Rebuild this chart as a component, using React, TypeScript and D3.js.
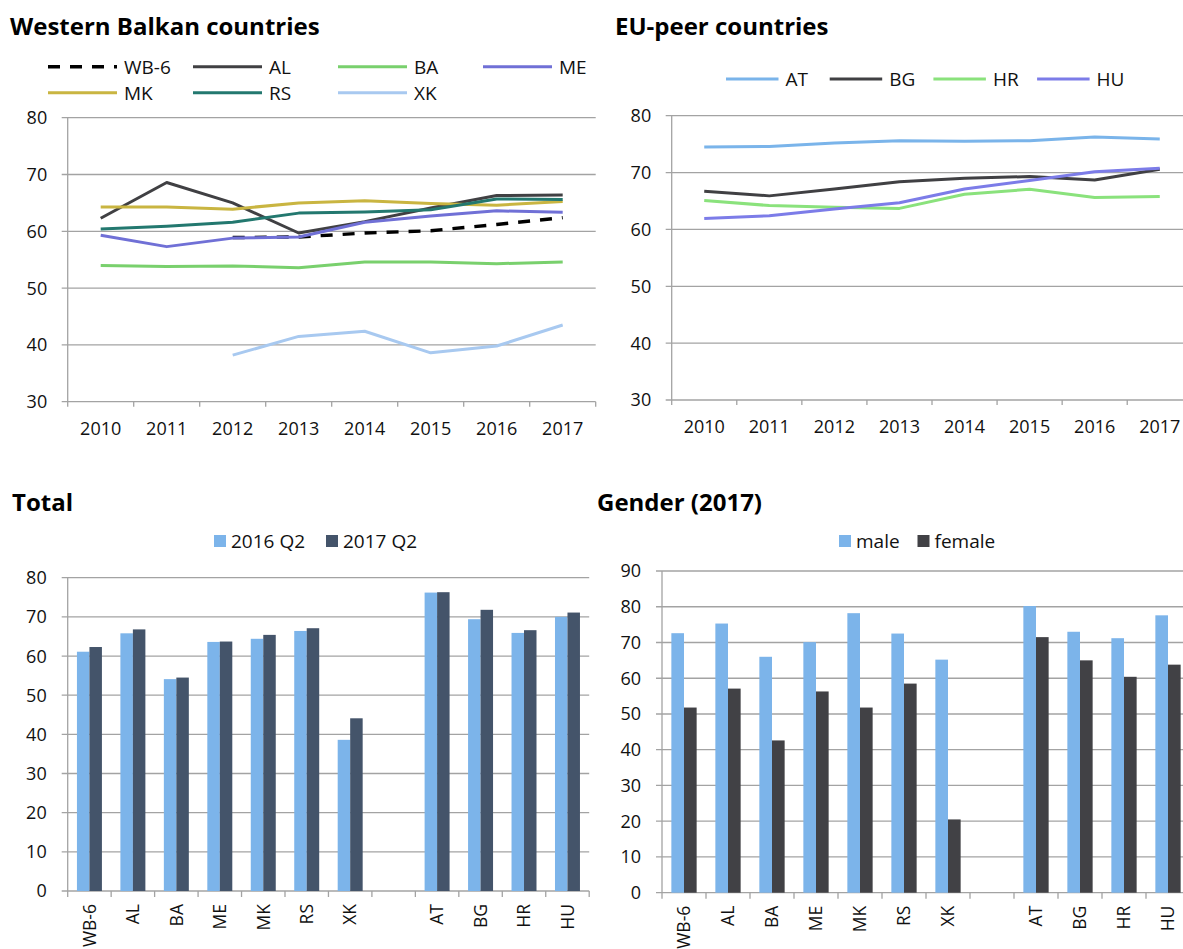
import React from 'react';
import * as d3 from 'd3';

// ---------- DATA ----------
const years = ['2010', '2011', '2012', '2013', '2014', '2015', '2016', '2017'];

const WB6 = [null, null, 58.9, 59.0, 59.7, 60.1, 61.2, 62.4];
const AL = [62.3, 68.6, 65.0, 59.7, 61.7, 64.1, 66.3, 66.4];
const BA = [54.0, 53.8, 53.9, 53.6, 54.6, 54.6, 54.3, 54.6];
const ME = [59.3, 57.3, 58.8, 59.0, 61.6, 62.7, 63.6, 63.35];
const MK = [64.3, 64.3, 63.9, 65.0, 65.4, 64.9, 64.6, 65.25];
const RS = [60.4, 60.9, 61.6, 63.2, 63.4, 63.8, 65.7, 65.6];
const XK = [null, null, 38.2, 41.5, 42.4, 38.6, 39.8, 43.5];

const AT = [74.5, 74.6, 75.2, 75.6, 75.5, 75.6, 76.25, 75.9];
const BG = [66.7, 65.9, 67.1, 68.4, 69.0, 69.3, 68.7, 70.6];
const HR = [65.1, 64.2, 63.9, 63.7, 66.2, 67.05, 65.6, 65.8];
const HU = [61.9, 62.4, 63.6, 64.7, 67.1, 68.6, 70.15, 70.75];

const barCategories = ['WB-6', 'AL', 'BA', 'ME', 'MK', 'RS', 'XK', ' ', 'AT', 'BG', 'HR', 'HU'];
const total2016 = [61.1, 65.8, 54.1, 63.6, 64.4, 66.4, 38.6, null, 76.2, 69.4, 65.9, 70.0];
const total2017 = [62.3, 66.8, 54.5, 63.7, 65.4, 67.1, 44.1, null, 76.3, 71.8, 66.6, 71.1];
const male = [72.6, 75.3, 66.0, 70.1, 78.2, 72.5, 65.2, null, 80.2, 73.0, 71.2, 77.6];
const female = [51.8, 57.1, 42.6, 56.3, 51.8, 58.5, 20.5, null, 71.5, 65.0, 60.4, 63.8];

const ticksTop = [30, 40, 50, 60, 70, 80];
const ticksTotal = [0, 10, 20, 30, 40, 50, 60, 70, 80];
const ticksGender = [0, 10, 20, 30, 40, 50, 60, 70, 80, 90];

// ---------- STYLE ----------
const FONT = "'Open Sans', 'Noto Sans', sans-serif";
const GRID = '#a3a3a3';
const TXT = '#111';

type Series = { name: string; values: (number | null)[]; color: string; dash?: string };

const wbSeries: Series[] = [
  { name: 'WB-6', values: WB6, color: '#000000', dash: '12,10' },
  { name: 'AL', values: AL, color: '#404043' },
  { name: 'BA', values: BA, color: '#79d06d' },
  { name: 'ME', values: ME, color: '#7070d6' },
  { name: 'MK', values: MK, color: '#c9b541' },
  { name: 'RS', values: RS, color: '#23786f' },
  { name: 'XK', values: XK, color: '#a8c9f0' },
];
const euSeries: Series[] = [
  { name: 'AT', values: AT, color: '#7ab4ea' },
  { name: 'BG', values: BG, color: '#404043' },
  { name: 'HR', values: HR, color: '#8ae27c' },
  { name: 'HU', values: HU, color: '#7c7ce8' },
];

function LineChart(props: {
  left: number; right: number; top: number; bottom: number;
  domain: [number, number]; ticks: number[]; series: Series[];
}) {
  const { left, right, top, bottom, domain, ticks, series } = props;
  const x = d3.scaleBand<string>().domain(years).range([left, right]).padding(0);
  const y = d3.scaleLinear().domain(domain).range([bottom, top]);
  const line = d3
    .line<number | null>()
    .defined((d) => d != null)
    .x((_, i) => (x(years[i]) as number) + x.bandwidth() / 2)
    .y((d) => y(d as number));
  const bounds = years.map((yr) => x(yr) as number).concat([right]);
  return (
    <g>
      {ticks.map((t) => (
        <g key={t}>
          <line x1={left - 6} x2={right} y1={y(t)} y2={y(t)} stroke={GRID} strokeWidth={1.3} />
          <text x={left - 20.5} y={y(t)} dy="0.36em" textAnchor="end" fontSize={18} fill={TXT}>
            {t}
          </text>
        </g>
      ))}
      <line x1={left} x2={left} y1={top} y2={bottom} stroke={GRID} strokeWidth={1.3} />
      {bounds.map((b, i) => (
        <line key={i} x1={b} x2={b} y1={bottom} y2={bottom + 5} stroke={GRID} strokeWidth={1.3} />
      ))}
      {years.map((yr) => (
        <text key={yr} x={(x(yr) as number) + x.bandwidth() / 2} y={bottom + 33} textAnchor="middle" fontSize={18} fill={TXT}>
          {yr}
        </text>
      ))}
      {series.map((s) => (
        <path
          key={s.name}
          d={line(s.values) || ''}
          fill="none"
          stroke={s.color}
          strokeWidth={s.dash ? 3.4 : 3}
          strokeDasharray={s.dash}
          strokeLinejoin="round"
        />
      ))}
    </g>
  );
}

function LineLegend(props: { series: Series[]; x0: number; y0: number; colW: number; rowH: number; perRow: number; lineLen: number }) {
  const { series, x0, y0, colW, rowH, perRow, lineLen } = props;
  return (
    <g>
      {series.map((s, i) => {
        const cx = x0 + (i % perRow) * colW;
        const cy = y0 + Math.floor(i / perRow) * rowH;
        return (
          <g key={s.name}>
            <line x1={cx} x2={cx + lineLen} y1={cy} y2={cy} stroke={s.color} strokeWidth={s.dash ? 3.6 : 3} strokeDasharray={s.dash} />
            <text x={cx + lineLen + 7} y={cy} dy="0.36em" fontSize={19} fill={TXT}>
              {s.name}
            </text>
          </g>
        );
      })}
    </g>
  );
}

function BarChart(props: {
  left: number; right: number; top: number; bottom: number;
  domain: [number, number]; ticks: number[];
  a: (number | null)[]; b: (number | null)[]; colorA: string; colorB: string;
}) {
  const { left, right, top, bottom, domain, ticks, a, b, colorA, colorB } = props;
  const x = d3.scaleBand<string>().domain(barCategories).range([left, right]).padding(0);
  const inner = d3.scaleBand<string>().domain(['a', 'b']).range([0, x.bandwidth()]).paddingInner(0).paddingOuter(0.74);
  const y = d3.scaleLinear().domain(domain).range([bottom, top]);
  const bounds = barCategories.map((c) => x(c) as number).concat([right]);
  return (
    <g>
      {ticks.map((t) => (
        <g key={t}>
          <line x1={left - 6} x2={right} y1={y(t)} y2={y(t)} stroke={GRID} strokeWidth={1.3} />
          <text x={left - 21} y={y(t)} dy="0.36em" textAnchor="end" fontSize={18} fill={TXT}>
            {t}
          </text>
        </g>
      ))}
      <line x1={left} x2={left} y1={top} y2={bottom} stroke={GRID} strokeWidth={1.3} />
      {bounds.map((bx, i) => (
        <line key={i} x1={bx} x2={bx} y1={bottom} y2={bottom + 6} stroke={GRID} strokeWidth={1.3} />
      ))}
      {barCategories.map((c, i) => (
        <g key={c}>
          {a[i] != null && (
            <rect x={(x(c) as number) + (inner('a') as number)} y={y(a[i] as number)} width={inner.bandwidth()} height={bottom - y(a[i] as number)} fill={colorA} />
          )}
          {b[i] != null && (
            <rect x={(x(c) as number) + (inner('b') as number)} y={y(b[i] as number)} width={inner.bandwidth()} height={bottom - y(b[i] as number)} fill={colorB} />
          )}
          <text
            transform={`translate(${(x(c) as number) + x.bandwidth() / 2},${bottom + 13}) rotate(-90)`}
            textAnchor="end"
            dy="0.36em"
            fontSize={17.5}
            fill={TXT}
          >
            {c.trim()}
          </text>
        </g>
      ))}
    </g>
  );
}

function SwatchLegend(props: { items: { name: string; color: string; x: number }[]; y: number }) {
  return (
    <g>
      {props.items.map((it) => (
        <g key={it.name}>
          <rect x={it.x} y={props.y - 6} width={12} height={12} fill={it.color} />
          <text x={it.x + 17} y={props.y} dy="0.36em" fontSize={19} fill={TXT}>
            {it.name}
          </text>
        </g>
      ))}
    </g>
  );
}

export default function App() {
  const lightBlue = '#7cb4ea';
  return (
    <svg
      width={1183}
      height={949}
      style={{ position: 'absolute', left: 0, top: 0, background: '#fff', fontFamily: FONT }}
    >
      <rect width={1183} height={949} fill="#fff" />
      {/* Titles */}
      <text x={10} y={35} fontSize={24} fontWeight="bold" fill="#000">Western Balkan countries</text>
      <text x={615} y={35} fontSize={24} fontWeight="bold" fill="#000">EU-peer countries</text>
      <text x={12} y={511} fontSize={24} fontWeight="bold" fill="#000">Total</text>
      <text x={597} y={511} fontSize={24} fontWeight="bold" fill="#000">Gender (2017)</text>

      {/* Top-left */}
      <LineLegend series={wbSeries} x0={48} y0={66.7} colW={145} rowH={26} perRow={4} lineLen={69} />
      <LineChart left={67.7} right={595.7} top={117.7} bottom={401.7} domain={[30, 80]} ticks={ticksTop} series={wbSeries} />

      {/* Top-right */}
      <LineLegend series={euSeries} x0={726} y0={79} colW={103.7} rowH={26} perRow={4} lineLen={52.5} />
      <LineChart left={671.7} right={1192.3} top={115.7} bottom={400} domain={[30, 80]} ticks={ticksTop} series={euSeries} />

      {/* Bottom-left */}
      <SwatchLegend
        y={541}
        items={[
          { name: '2016 Q2', color: lightBlue, x: 214 },
          { name: '2017 Q2', color: '#44546a', x: 326 },
        ]}
      />
      <BarChart left={67.7} right={589.2} top={577.7} bottom={891} domain={[0, 80]} ticks={ticksTotal} a={total2016} b={total2017} colorA={lightBlue} colorB="#44546a" />

      {/* Bottom-right */}
      <SwatchLegend
        y={541}
        items={[
          { name: 'male', color: lightBlue, x: 839 },
          { name: 'female', color: '#414145', x: 917.5 },
        ]}
      />
      <BarChart left={662} right={1190} top={571} bottom={892.7} domain={[0, 90]} ticks={ticksGender} a={male} b={female} colorA={lightBlue} colorB="#414145" />
    </svg>
  );
}
